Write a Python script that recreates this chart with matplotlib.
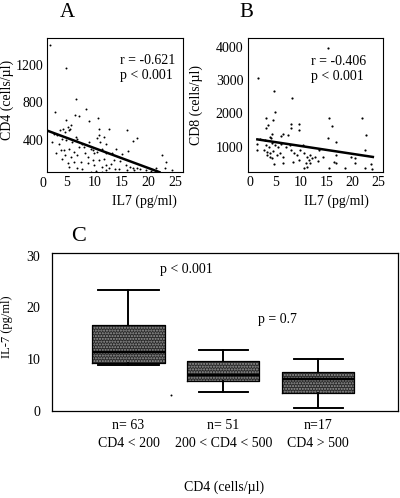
import matplotlib
matplotlib.use("Agg")
import matplotlib.pyplot as plt
import numpy as np

plt.rcParams['font.family'] = ['Liberation Serif', 'DejaVu Serif']

# panel A: IL7 vs CD4
a_x = [1.9, 4.9, 6.7, 2.7, 8.5, 6.4, 7.2, 10.7, 4.9, 9.1, 5.8, 5.2, 4.3, 5.6, 3.7,
       5.4, 4.6, 10.9, 12.8, 16.1, 17.8, 17.2, 2.6, 3.2, 4.0, 4.8, 3.5, 6.0, 6.9,
       7.8, 6.6, 10.6, 11.0, 12.2, 14.1, 16.2, 10.9, 9.7, 4.4, 5.4, 6.3, 7.2, 8.1,
       9.4, 10.6, 11.5, 4.6, 5.7, 6.9, 8.8, 10.0, 12.2, 5.2, 6.3, 7.5, 9.7, 10.9,
       5.4, 6.9, 8.8, 10.0, 11.5, 12.2, 9.4, 10.3, 11.4, 12.2, 12.8, 13.6, 14.7,
       15.9, 16.6, 17.2, 17.8, 13.9, 16.1, 17.3, 21.4, 22.5, 23.3, 23.1, 24.4,
       21.6, 3.0, 3.8, 2.2, 4.1, 7.8, 8.3, 11.8, 13.0, 14.5, 15.2, 18.5, 19.5,
       20.5, 9.0, 11.8, 13.3]
a_y = [1410, 1160, 837, 696, 735, 670, 655, 633, 616, 602, 565, 540, 522, 522, 505,
       505, 486, 522, 522, 511, 427, 388, 469, 451, 416, 399, 364, 381, 416,
       364, 434, 420, 380, 360, 311, 283, 460, 300, 294, 311, 276, 329, 329,
       311, 276, 311, 241, 224, 241, 224, 259, 259, 154, 171, 171, 189, 189,
       119, 101, 154, 136, 119, 136, 66, 72, 66, 84, 101, 189, 179,
       136, 119, 108, 101, 94, 80, 84, 108, 241, 171, 101, 84,
       73, 260, 300, 380, 200, 90, 260, 200, 150, 90, 250, 90, 80,
       70, 380, 430, 260]
a_fit = (530, -21.3)
a_fit_x = [1.5, 22.0]

# panel B: IL7 vs CD8
b_x = [1.6, 4.75, 8.2, 15.2, 4.9, 3.1, 4.6, 3.5, 3.2, 8.1, 8.1, 9.6, 9.6, 6.4, 6.2,
       7.4, 4.3, 3.9, 4.1, 2.1, 1.4, 1.5, 2.9, 3.1, 3.7, 4.3, 4.9, 5.6, 6.2, 2.7,
       3.4, 4.0, 4.6, 5.3, 5.9, 6.5, 3.3, 3.9, 4.3, 7.1, 7.8, 8.1, 8.7, 9.3, 9.9,
       10.3, 10.6, 11.2, 11.8, 9.6, 10.9, 11.5, 12.1, 12.8, 4.8, 6.5, 8.4, 10.6,
       11.2, 11.8, 15.4, 21.8, 16.1, 22.7, 15.2, 16.8, 22.4, 13.6, 16.9, 19.7,
       20.6, 20.6, 23.6, 16.4, 16.9, 15.5, 18.6, 22.4, 23.9, 13.3, 14.2]
b_y = [3070, 2680, 2450, 3950, 2030, 1870, 1800, 1650, 1570, 1680, 1570, 1670, 1500,
       1370, 1330, 1350, 1370, 1300, 1250, 1230, 1080, 900, 1200, 1050, 1000, 1100,
       1050, 1000, 1070, 900, 850, 800, 870, 750, 800, 700, 750, 700, 650, 1000,
       1050, 900, 800, 750, 900, 1050, 800, 700, 750, 600, 500, 600, 650, 700, 470,
       500, 550, 350, 400, 500, 1870, 1870, 1630, 1350, 1270, 1150, 890, 900, 750,
       700, 650, 500, 470, 530, 500, 370, 350, 350, 320, 570, 700]
b_fit = (1257, -23.4)
b_fit_x = [1.5, 24.0]

# panel C: IL-7 by CD4 group
c_labels = ["n= 63\nCD4 < 200", "n= 51\n200 < CD4 < 500", "n=17\nCD4 > 500"]
c_whislo = [8.9, 3.6, 0.6]
c_q1 = [9.3, 5.8, 3.4]
c_med = [11.4, 7.0, 6.1]
c_q3 = [16.6, 9.6, 7.6]
c_whishi = [23.3, 11.7, 10.0]
c_out_x = [1.45]
c_out_y = [3.1]

fig = plt.figure(figsize=(4.0, 4.98), dpi=100)

axA = fig.add_axes([0.118, 0.655, 0.339, 0.268])
axB = fig.add_axes([0.619, 0.655, 0.3375, 0.268])
axC = fig.add_axes([0.129, 0.175, 0.866, 0.3166])

fs = 9

# A
axA.scatter(a_x, a_y, s=2, color='black', linewidths=0)
fx = np.array(a_fit_x)
axA.plot(fx, a_fit[0] + a_fit[1] * fx, color='black', lw=1.8)
axA.set_xlim(1.35, 26.3)
axA.set_ylim(65, 1478)
axA.set_xticks([5, 10, 15, 20, 25])
axA.set_yticks([400, 800, 1200])
axA.text(0.6, -0.04, "0", transform=axA.get_xaxis_transform(), ha='center', va='top', fontsize=fs + 1)
axA.set_xlabel("IL7 (pg/ml)", fontsize=fs + 1)
axA.xaxis.set_label_coords(0.72, -0.167)
axA.set_ylabel("CD4 (cells/µl)", fontsize=fs + 1)
axA.yaxis.set_label_coords(-0.245, 0.54)
axA.text(0.536, 0.835, "r = -0.621", transform=axA.transAxes, fontsize=fs + 1, va='center')
axA.text(0.536, 0.723, "p < 0.001", transform=axA.transAxes, fontsize=fs + 1, va='center')

# B
axB.scatter(b_x, b_y, s=2.5, color='black', linewidths=0)
fx = np.array(b_fit_x)
axB.plot(fx, b_fit[0] + b_fit[1] * fx, color='black', lw=1.8)
axB.set_xlim(-0.4, 25.9)
axB.set_ylim(250, 4250)
axB.set_xticks([0, 5, 10, 15, 20, 25])
axB.set_yticks([1000, 2000, 3000, 4000])
axB.set_xlabel("IL7 (pg/ml)", fontsize=fs + 1)
axB.xaxis.set_label_coords(0.66, -0.167)
axB.set_ylabel("CD8 (cells/µl)", fontsize=fs + 1)
axB.yaxis.set_label_coords(-0.33, 0.5)
axB.text(0.467, 0.825, "r = -0.406", transform=axB.transAxes, fontsize=fs + 1, va='center')
axB.text(0.467, 0.712, "p < 0.001", transform=axB.transAxes, fontsize=fs + 1, va='center')

for ax in (axA, axB):
    ax.tick_params(length=0, labelsize=fs + 1, pad=3)
    for sp in ax.spines.values():
        sp.set_linewidth(0.8)

# C
stats = []
for i in range(3):
    stats.append(dict(label=c_labels[i], whislo=c_whislo[i], q1=c_q1[i], med=c_med[i],
                      q3=c_q3[i], whishi=c_whishi[i], fliers=[]))
pos = [1, 2, 3]
caps = [0.64, 0.52, 0.52]
axC.bxp(stats, positions=pos, widths=0.76, capwidths=caps, patch_artist=True,
        boxprops=dict(facecolor='#2a2a2a', edgecolor='#9a9a9a', hatch='......', linewidth=0),
        medianprops=dict(color='black', linewidth=1.6),
        whiskerprops=dict(color='black', linewidth=1.2),
        capprops=dict(color='black', linewidth=1.2))
axC.bxp(stats, positions=pos, widths=0.76, capwidths=caps,
        boxprops=dict(color='black', linewidth=0.9),
        medianprops=dict(color='black', linewidth=1.6),
        whiskerprops=dict(color='black', linewidth=1.2),
        capprops=dict(color='black', linewidth=1.2))
axC.scatter(c_out_x, c_out_y, s=2, color='black', linewidths=0)
axC.set_xlim(0.19, 3.84)
axC.set_ylim(0, 30.5)
axC.set_yticks([0, 10, 20, 30])
axC.set_xticks(pos)
axC.set_xticklabels(c_labels, fontsize=fs + 1, linespacing=1.5)
axC.tick_params(length=0, labelsize=fs + 1, pad=6)
axC.tick_params(axis='y', pad=8)
axC.set_ylabel("IL-7 (pg/ml)", fontsize=fs)
axC.yaxis.set_label_coords(-0.111, 0.535)
axC.set_xlabel("CD4 (cells/µl)", fontsize=fs + 1)
axC.xaxis.set_label_coords(0.497, -0.44)
axC.text(1.33, 27.3, "p < 0.001", fontsize=fs + 1, va='center')
axC.text(2.36, 17.6, "p = 0.7", fontsize=fs + 1, va='center')
for sp in axC.spines.values():
    sp.set_linewidth(0.9)

fig.text(0.1675, 0.974, "A", fontsize=15, ha='center', va='center')
fig.text(0.617, 0.974, "B", fontsize=15, ha='center', va='center')
fig.text(0.1975, 0.526, "C", fontsize=16, ha='center', va='center')

fig.savefig("out.png", dpi=100)
